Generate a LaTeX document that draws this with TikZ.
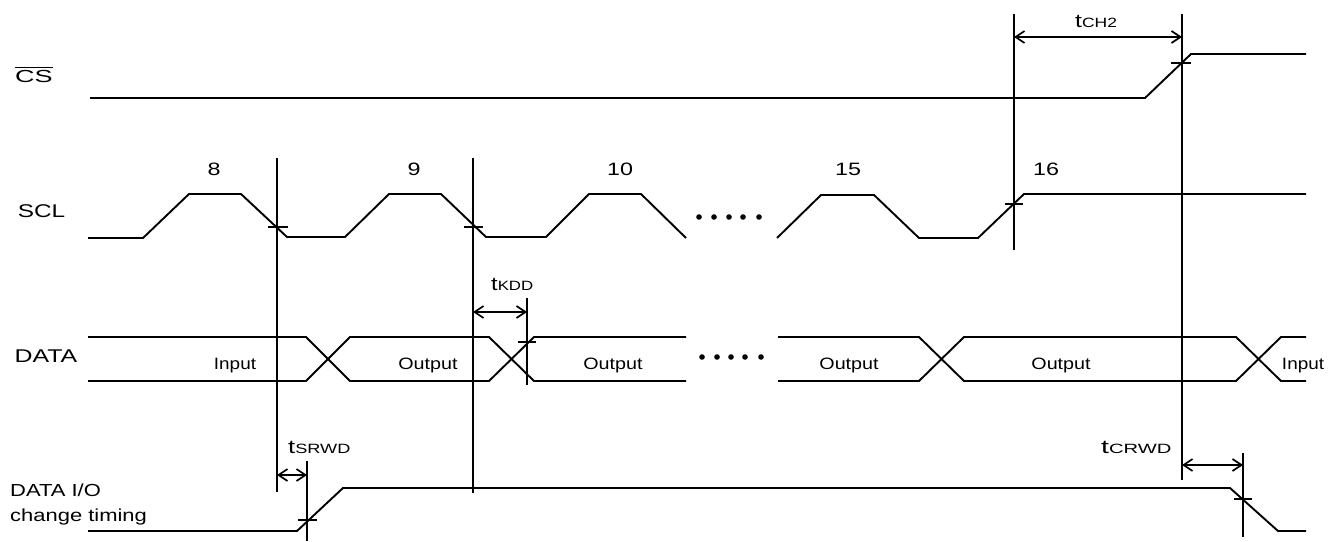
\documentclass[tikz,border=0pt]{standalone}
\usepackage{graphicx}
\usepackage{fontspec}
\setmainfont{Liberation Sans}
\usetikzlibrary{arrows.meta}
\newcommand\sx[2]{\scalebox{#1}[1]{#2}}
\newcommand\tlab[2][1.3]{\scalebox{#1}[1]{{\fontsize{19}{19}\selectfont t}{\fontsize{13.5}{13.5}\selectfont #2}}}
\begin{document}
\begin{tikzpicture}[x=1bp,y=-1bp,
  wave/.style={line width=1.9bp, line join=miter},
  guide/.style={line width=1.7bp},
  tick/.style={line width=1.7bp},
  dimarrow/.style={line width=1.7bp, {Straight Barb[length=9bp,width=12bp]}-{Straight Barb[length=9bp,width=12bp]}},
  lbl/.style={inner sep=0pt, anchor=base},
  dot/.style={fill=black, draw=none}]
\useasboundingbox (0,0) rectangle (1343,542);
% ---- signal names
\node[lbl] (csname) at (34,83) {\fontsize{17.5}{17.5}\selectfont $\overline{\mbox{\vphantom{\"A}\sx{1.55}{CS}}}$};
\node[lbl] (sclname) at (41.5,218) {\fontsize{18.5}{18.5}\selectfont\sx{1.32}{SCL}};
\node[lbl] (dataname) at (46,362) {\fontsize{18.5}{18.5}\selectfont\sx{1.35}{DATA}};
\node[inner sep=0pt, anchor=base west, align=left, font=\fontsize{17.5}{25}\selectfont] (ioname) at (10,521) {\sx{1.26}{DATA I/O}\\\sx{1.26}{change timing}};
% ---- clock numbers
\foreach \n/\x in {8/214, 9/414, 10/620, 15/848, 16/1046}
  \node[lbl] (num\n) at (\x,176) {\fontsize{18}{18}\selectfont\sx{1.3}{\n}};
% ---- CS waveform
\draw[wave] (90,98) -- (1145,98) -- (1191,54) -- (1306,54);
% ---- SCL waveform
\draw[wave] (88,238) -- (143,238) -- (189,194) -- (241,194) -- (287,237) -- (345,237)
  -- (389,194) -- (441,194) -- (486,237) -- (546,237) -- (589,194) -- (641,194) -- (686,238);
\draw[wave] (777,238) -- (821,195) -- (874,195) -- (919,238) -- (978,238) -- (1024,194) -- (1306,194);
\foreach \x in {699,714,729,743,759} \fill[dot] (\x,217) circle (2.8bp);
% ---- DATA waveform
\draw[wave] (88,337) -- (306,337) -- (350,381) -- (489,381) -- (534,337) -- (686,337);
\draw[wave] (88,381) -- (306,381) -- (350,337) -- (489,337) -- (534,381) -- (686,381);
\draw[wave] (778,337) -- (919,337) -- (964,381) -- (1236,381) -- (1281,337) -- (1306,337);
\draw[wave] (778,381) -- (919,381) -- (964,337) -- (1236,337) -- (1281,381) -- (1306,381);
\foreach \x in {702,717,731,745,761} \fill[dot] (\x,357) circle (2.8bp);
\node[lbl] (in1) at (235,369) {\fontsize{16.5}{16.5}\selectfont\sx{1.15}{Input}};
\node[lbl] (out1) at (428,369) {\fontsize{16.5}{16.5}\selectfont\sx{1.2}{Output}};
\node[lbl] (out2) at (613,369) {\fontsize{16.5}{16.5}\selectfont\sx{1.2}{Output}};
\node[lbl] (out3) at (849,369) {\fontsize{16.5}{16.5}\selectfont\sx{1.2}{Output}};
\node[lbl] (out4) at (1061,369) {\fontsize{16.5}{16.5}\selectfont\sx{1.2}{Output}};
\node[lbl] (in2) at (1303,369) {\fontsize{16.5}{16.5}\selectfont\sx{1.15}{Input}};
% ---- DATA I/O change timing waveform
\draw[wave] (88,531) -- (297,531) -- (343,488) -- (1230,488) -- (1278,531) -- (1306,531);
% ---- reference lines
\coordinate (v8t) at (277,158);  \coordinate (v8b) at (277,492);
\coordinate (v9t) at (473,158);  \coordinate (v9b) at (473,493);
\coordinate (v16t) at (1014,14); \coordinate (v16b) at (1014,250);
\coordinate (vct) at (1182,14);  \coordinate (vcb) at (1182,480);
\coordinate (vst) at (307,461);  \coordinate (vsb) at (307,541);
\coordinate (vkt) at (527,298);  \coordinate (vkb) at (527,385);
\coordinate (vrt) at (1243,453); \coordinate (vrb) at (1243,537);
\foreach \a/\b in {v8t/v8b, v9t/v9b, v16t/v16b, vct/vcb, vst/vsb, vkt/vkb, vrt/vrb}
  \draw[guide] (\a) -- (\b);
% ---- ticks
\draw[tick] (268,227) -- (288,227);
\draw[tick] (464,227) -- (483,227);
\draw[tick] (1005,204) -- (1023,204);
\draw[tick] (1171,63) -- (1191,63);
\draw[tick] (518,342) -- (536,342);
\draw[tick] (298,520) -- (317,520);
\draw[tick] (1234,499) -- (1252,499);
% ---- dimension arrows
\coordinate (ch2a) at (1014,37);  \coordinate (ch2b) at (1182,37);
\coordinate (kdda) at (473,312);  \coordinate (kddb) at (527,312);
\coordinate (srwa) at (277,475);  \coordinate (srwb) at (307,475);
\coordinate (crwa) at (1182,465); \coordinate (crwb) at (1243,465);
\draw[dimarrow] (ch2a) -- (ch2b);
\draw[dimarrow] (kdda) -- (kddb);
\draw[dimarrow] (srwa) -- (srwb);
\draw[dimarrow] (crwa) -- (crwb);
\node[inner sep=0pt, anchor=base west] (tch2) at (1075,28) {\tlab{CH2}};
\node[inner sep=0pt, anchor=base west] (tkdd) at (491,290) {\tlab[1.25]{KDD}};
\node[inner sep=0pt, anchor=base west] (tsrwd) at (288,453) {\tlab[1.35]{SRWD}};
\node[inner sep=0pt, anchor=base west] (tcrwd) at (1101,453) {\tlab[1.5]{CRWD}};
\end{tikzpicture}
\end{document}
